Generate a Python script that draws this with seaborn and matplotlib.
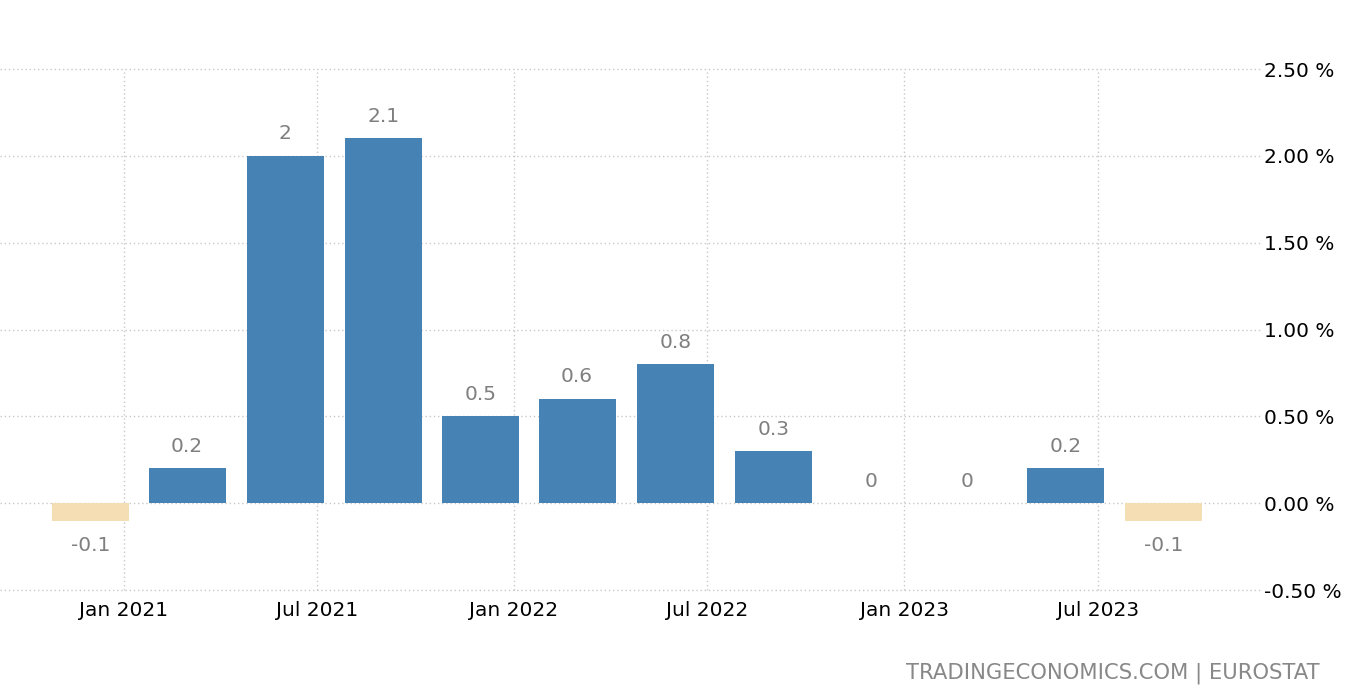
import matplotlib
matplotlib.use("Agg")
import matplotlib.pyplot as plt
import matplotlib.dates as mdates
from matplotlib.ticker import FuncFormatter
import seaborn as sns
import pandas as pd
import numpy as np

# Data (quarterly, GDP growth %)
dates = ["2020-12-01", "2021-03-01", "2021-06-01", "2021-09-01",
         "2021-12-01", "2022-03-01", "2022-06-01", "2022-09-01",
         "2022-12-01", "2023-03-01", "2023-06-01", "2023-09-01"]
values = [-0.1, 0.2, 2.0, 2.1, 0.5, 0.6, 0.8, 0.3, 0.0, 0.0, 0.2, -0.1]
yticks = [-0.5, 0.0, 0.5, 1.0, 1.5, 2.0, 2.5]
source = "TRADINGECONOMICS.COM | EUROSTAT"

sns.set_style("white")
plt.rcParams["font.family"] = ["DejaVu Sans"]

df = pd.DataFrame({
    "x": mdates.date2num(pd.to_datetime(dates)),
    "value": values,
    "sign": ["neg" if v < 0 else "pos" for v in values],
})

fig = plt.figure(figsize=(13.69, 6.93), dpi=100)
ax = fig.add_axes([0.0, 0.1486, 0.9204, 0.9004 - 0.1486])

sns.barplot(data=df, x="x", y="value", hue="sign",
            palette={"pos": "#4682b4", "neg": "#f5deb3"},
            native_scale=True, dodge=False, width=0.8, saturation=1,
            errorbar=None, legend=False, ax=ax, zorder=3, linewidth=0)

# value labels
for xv, v in zip(df["x"], df["value"]):
    txt = f"{v:g}"
    if v < 0:
        ax.annotate(txt, (xv, v), xytext=(0, -11), textcoords="offset points",
                    ha="center", va="top", color="#7f7f7f", fontsize=14.5)
    else:
        ax.annotate(txt, (xv, v), xytext=(0, 9), textcoords="offset points",
                    ha="center", va="bottom", color="#7f7f7f", fontsize=14.5)

ax.set_xlim(mdates.date2num(pd.Timestamp("2020-09-07")),
            mdates.date2num(pd.Timestamp("2023-11-30")))
ax.set_ylim(-0.5, 2.5)

ax.xaxis.set_major_locator(mdates.MonthLocator(bymonth=[1, 7]))
ax.xaxis.set_major_formatter(mdates.DateFormatter("%b %Y"))
ax.yaxis.tick_right()
ax.set_yticks(yticks)
ax.yaxis.set_major_formatter(FuncFormatter(lambda v, p: f"{v:.2f} %"))

ax.tick_params(axis="x", length=5, color="#d0d0d0", width=1, pad=3,
               labelsize=14.5, labelcolor="black")
ax.tick_params(axis="y", length=0, pad=3, labelsize=14.5, labelcolor="black")
for lab in ax.get_yticklabels():
    lab.set_horizontalalignment("left")

ax.set_xlabel("")
ax.set_ylabel("")
ax.grid(True, linestyle=(0, (1, 2)), color="#c8c8c8", linewidth=1)
ax.set_axisbelow(True)
for gl in ax.get_xgridlines() + ax.get_ygridlines():
    gl.set_clip_on(False)
for s in ax.spines.values():
    s.set_visible(False)

fig.text(1320 / 1369, 1 - 673 / 693, source, ha="right", va="center",
         color="#888888", fontsize=15.2)

fig.savefig("out.png", dpi=100)
